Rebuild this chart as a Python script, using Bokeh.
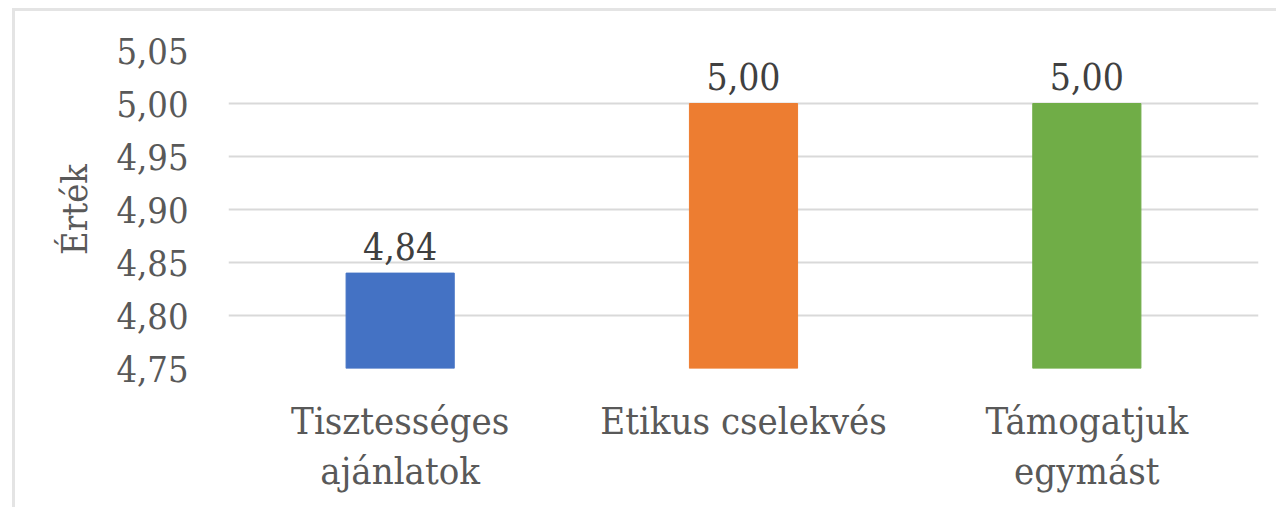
from bokeh.plotting import figure
from bokeh.models import ColumnDataSource, Range1d, FixedTicker, CategoricalAxis, FactorRange
from bokeh.core.properties import value
from bokeh.embed import file_html
from bokeh.resources import INLINE

# ---- data ----
category_line1 = ["Tisztességes", "Etikus cselekvés", "Támogatjuk"]
category_line2 = ["ajánlatok", " ", "egymást"]
values = [4.84, 5.00, 5.00]
value_labels = ["4,84", "5,00", "5,00"]
bar_colors = ["#4472C4", "#ED7D31", "#70AD47"]
y_ticks = [4.75, 4.80, 4.85, 4.90, 4.95, 5.00, 5.05]
y_tick_labels = ["4,75", "4,80", "4,85", "4,90", "4,95", "5,00", "5,05"]
y_min, y_max = 4.75, 5.05
y_title = "Érték"

TXT = "#595959"
FONT = "DejaVu Serif Condensed"

src = ColumnDataSource(dict(cat=category_line1, val=values, lab=value_labels,
                            col=bar_colors, base=[y_min] * len(values)))

W, H = 1264, 499
p = figure(x_range=FactorRange(factors=category_line1), y_range=Range1d(y_min, y_max),
           width=W, height=H, output_backend="svg", toolbar_location=None,
           min_border_left=213, min_border_right=21, min_border_top=39,
           min_border_bottom=142, margin=(8, 0, 0, 12),
           styles={"border-top": "3px solid #e4e4e4", "border-left": "3px solid #e4e4e4"})
p.extra_x_ranges = {"line2": FactorRange(factors=category_line2)}
p.outline_line_color = None
p.background_fill_color = "white"
p.border_fill_color = "white"

p.vbar(x="cat", top="val", bottom="base", width=0.315, color="col", source=src)
p.text(x="cat", y="val", text="lab", source=src, text_align="center",
       text_baseline="alphabetic", y_offset=-27, text_font=value(FONT),
       text_font_size="37px", text_color="#404040")

# second row of category labels
x2 = CategoricalAxis(x_range_name="line2")
p.add_layout(x2, "below")

# grid
p.xgrid.grid_line_color = None
p.ygrid.grid_line_color = "#d9d9d9"
p.ygrid.grid_line_width = 2
p.yaxis.ticker = FixedTicker(ticks=y_ticks)
p.yaxis.major_label_overrides = {t: l for t, l in zip(y_ticks, y_tick_labels)}

for ax in (p.xaxis[0], x2, p.yaxis[0]):
    ax.axis_line_color = None
    ax.major_tick_line_color = None
    ax.minor_tick_line_color = None
    ax.major_tick_out = 0
    ax.major_tick_in = 0
    ax.major_label_text_font = FONT
    ax.major_label_text_color = TXT

p.xaxis[0].major_label_text_font_size = "38px"
p.xaxis[0].major_label_standoff = 30
x2.major_label_text_font_size = "38px"
x2.major_label_standoff = 3

ax = p.yaxis[0]
ax.major_label_text_font_size = "36px"
ax.major_label_standoff = 40
ax.axis_label = y_title
ax.axis_label_text_font = FONT
ax.axis_label_text_font_style = "normal"
ax.axis_label_text_font_size = "36px"
ax.axis_label_text_color = TXT
ax.axis_label_standoff = 18

open("out.html", "w").write(file_html(p, INLINE))
